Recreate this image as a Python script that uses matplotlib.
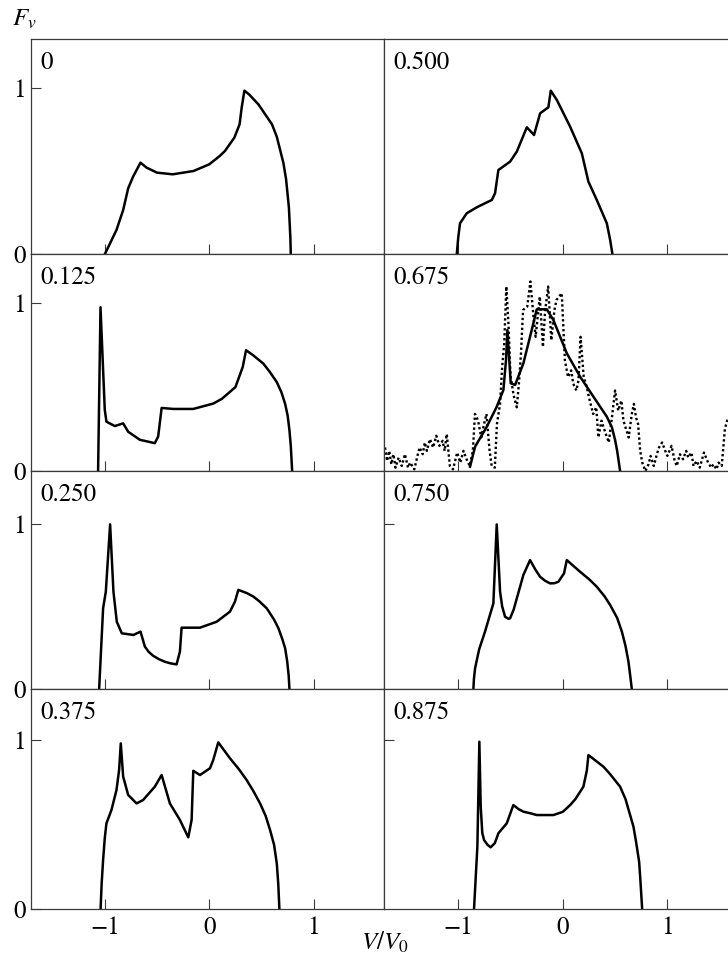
import numpy as np
import matplotlib.pyplot as plt

plt.rcParams['font.family'] = ['STIXGeneral', 'Liberation Serif', 'DejaVu Serif']
plt.rcParams['mathtext.fontset'] = 'stix'

# distributions F_v(V/V0), one per parameter value
v_000 = [-1.0, -0.888, -0.824, -0.776, -0.729, -0.658, -0.6, -0.5, -0.35, -0.15,
         0.0, 0.1, 0.15, 0.24, 0.29, 0.31, 0.336, 0.38, 0.47, 0.6, 0.646, 0.71,
         0.735, 0.762, 0.776, 0.78]
f_000 = [0.0, 0.146, 0.266, 0.396, 0.466, 0.55, 0.52, 0.49, 0.48, 0.50,
         0.54, 0.59, 0.62, 0.70, 0.78, 0.88, 0.982, 0.96, 0.90, 0.78, 0.706, 0.546,
         0.45, 0.28, 0.10, 0.0]

v_125 = [-1.064, -1.041, -1.0, -0.984, -0.904, -0.824, -0.776, -0.664, -0.521, -0.489,
         -0.456, -0.345, -0.153, 0.038, 0.12, 0.25, 0.32, 0.352, 0.42, 0.518, 0.58,
         0.646, 0.69, 0.726, 0.75, 0.767, 0.78, 0.793]
f_125 = [0.0, 0.976, 0.364, 0.294, 0.268, 0.284, 0.234, 0.186, 0.166, 0.206,
         0.376, 0.37, 0.37, 0.402, 0.43, 0.50, 0.62, 0.72, 0.69, 0.64, 0.59,
         0.53, 0.47, 0.40, 0.33, 0.244, 0.15, 0.0]

v_250 = [-1.054, -1.016, -0.99, -0.949, -0.917, -0.885, -0.837, -0.726, -0.658, -0.616,
         -0.58, -0.537, -0.48, -0.425, -0.37, -0.313, -0.281, -0.265, -0.089, 0.071,
         0.198, 0.246, 0.278, 0.36, 0.422, 0.48, 0.55, 0.62, 0.662, 0.70, 0.726,
         0.745, 0.76, 0.767]
f_250 = [0.0, 0.488, 0.589, 0.996, 0.589, 0.407, 0.337, 0.327, 0.347, 0.256,
         0.225, 0.201, 0.18, 0.165, 0.155, 0.149, 0.226, 0.371, 0.371, 0.407,
         0.468, 0.529, 0.60, 0.58, 0.559, 0.53, 0.488, 0.42, 0.367, 0.30, 0.246,
         0.17, 0.08, 0.0]

v_375 = [-1.04, -1.03, -1.016, -1.0, -0.984, -0.936, -0.888, -0.863, -0.847, -0.824,
         -0.776, -0.696, -0.633, -0.521, -0.456, -0.377, -0.281, -0.201, -0.169, -0.153,
         -0.089, 0.007, 0.038, 0.086, 0.198, 0.28, 0.358, 0.42, 0.486, 0.54, 0.582,
         0.62, 0.646, 0.66, 0.671]
f_375 = [0.0, 0.15, 0.29, 0.42, 0.507, 0.586, 0.704, 0.822, 0.98, 0.783,
         0.675, 0.625, 0.645, 0.724, 0.793, 0.625, 0.527, 0.424, 0.527, 0.818,
         0.793, 0.833, 0.882, 0.986, 0.892, 0.83, 0.763, 0.70, 0.625, 0.55, 0.467,
         0.38, 0.27, 0.15, 0.0]

v_500 = [-1.014, -1.0, -0.983, -0.919, -0.823, -0.679, -0.648, -0.616, -0.504, -0.44,
         -0.344, -0.275, -0.217, -0.138, -0.115, -0.057, 0.07, 0.182, 0.245, 0.325,
         0.421, 0.453, 0.475]
f_500 = [0.0, 0.10, 0.186, 0.246, 0.282, 0.326, 0.366, 0.506, 0.556, 0.616,
         0.762, 0.716, 0.846, 0.882, 0.982, 0.926, 0.766, 0.606, 0.436, 0.326,
         0.186, 0.086, 0.0]

v_675 = [-0.887, -0.839, -0.727, -0.632, -0.568, -0.543, -0.53, -0.498, -0.456, -0.377,
         -0.297, -0.249, -0.153, -0.09, 0.038, 0.166, 0.293, 0.421, 0.47, 0.5, 0.52, 0.548]
f_675 = [0.026, 0.145, 0.264, 0.383, 0.483, 0.662, 0.841, 0.523, 0.513, 0.642,
         0.841, 0.964, 0.964, 0.90, 0.702, 0.562, 0.443, 0.324, 0.26, 0.185, 0.12, 0.0]

# measured (noisy) distribution for 0.675, dotted
v_675m = [-1.70, -1.68, -1.66, -1.64, -1.62, -1.60, -1.57, -1.54, -1.51, -1.48, -1.46,
          -1.42, -1.39, -1.37, -1.34, -1.32, -1.30, -1.27, -1.24, -1.21, -1.18, -1.15,
          -1.13, -1.11, -1.08, -1.05, -1.03, -1.01, -0.98, -0.95, -0.92, -0.89, -0.86,
          -0.84, -0.81, -0.78, -0.76, -0.73, -0.70, -0.68, -0.65, -0.63, -0.60, -0.58,
          -0.56, -0.54, -0.52, -0.50, -0.47, -0.44, -0.42, -0.40, -0.38, -0.34, -0.31,
          -0.28, -0.26, -0.22, -0.19, -0.17, -0.14, -0.11, -0.08, -0.06, -0.01, 0.02,
          0.05, 0.08, 0.10, 0.13, 0.15, 0.17, 0.20, 0.23, 0.25, 0.29, 0.32, 0.34, 0.37,
          0.39, 0.44, 0.47, 0.50, 0.53, 0.56, 0.58, 0.61, 0.63, 0.66, 0.68, 0.70, 0.72,
          0.74, 0.76, 0.79, 0.82, 0.84, 0.87, 0.90, 0.92, 0.95, 0.98, 1.00, 1.02, 1.04,
          1.07, 1.09, 1.12, 1.15, 1.18, 1.20, 1.23, 1.25, 1.28, 1.31, 1.35, 1.37, 1.39,
          1.42, 1.44, 1.47, 1.49, 1.52, 1.55, 1.58]
f_675m = [0.14, 0.06, 0.12, 0.04, 0.10, 0.02, 0.08, 0.03, 0.10, 0.02, 0.05,
          0.01, 0.09, 0.14, 0.10, 0.17, 0.12, 0.19, 0.14, 0.21, 0.15, 0.18,
          0.12, 0.22, 0.03, 0.01, 0.06, 0.11, 0.05, 0.12, 0.07, 0.03, 0.12,
          0.34, 0.30, 0.20, 0.26, 0.34, 0.12, 0.03, 0.02, 0.28, 0.40, 0.62,
          0.76, 1.10, 0.88, 0.57, 0.45, 0.38, 0.52, 0.70, 0.96, 0.98, 1.13,
          0.92, 0.80, 1.04, 0.74, 0.95, 1.10, 0.78, 0.96, 1.02, 1.06, 0.66,
          0.56, 0.60, 0.52, 0.48, 0.54, 0.80, 0.56, 0.50, 0.44, 0.34, 0.38, 0.20, 0.30,
          0.26, 0.17, 0.32, 0.48, 0.36, 0.42, 0.30, 0.24, 0.20, 0.34, 0.40, 0.32, 0.28,
          0.12, 0.05, 0.0, 0.04, 0.09, 0.03, 0.10, 0.14, 0.17, 0.12, 0.09, 0.12, 0.15,
          0.06, 0.03, 0.10, 0.07, 0.12, 0.08, 0.11, 0.03, 0.06, 0.02, 0.11, 0.08, 0.05,
          0.02, 0.04, 0.01, 0.05, 0.03, 0.25, 0.32]

v_750 = [-0.855, -0.85, -0.839, -0.80, -0.744, -0.664, -0.632, -0.60, -0.58, -0.552,
         -0.52, -0.504, -0.47, -0.44, -0.377, -0.313, -0.26, -0.217, -0.17, -0.122,
         -0.08, -0.042, 0.012, 0.038, 0.166, 0.25, 0.325, 0.40, 0.453, 0.52, 0.565,
         0.60, 0.628, 0.645, 0.66]
f_750 = [0.0, 0.06, 0.125, 0.24, 0.347, 0.518, 0.996, 0.589, 0.50, 0.437,
         0.425, 0.428, 0.48, 0.548, 0.69, 0.78, 0.72, 0.679, 0.655, 0.639,
         0.64, 0.649, 0.70, 0.78, 0.709, 0.665, 0.619, 0.56, 0.508, 0.43, 0.347,
         0.26, 0.165, 0.08, 0.0]

v_875 = [-0.849, -0.817, -0.798, -0.785, -0.77, -0.753, -0.72, -0.69, -0.65, -0.616,
         -0.536, -0.473, -0.42, -0.377, -0.3, -0.249, -0.15, -0.09, 0.0, 0.07,
         0.12, 0.197, 0.23, 0.245, 0.31, 0.389, 0.45, 0.548, 0.60, 0.676, 0.70,
         0.73, 0.74, 0.759]
f_875 = [0.0, 0.369, 0.99, 0.605, 0.45, 0.408, 0.38, 0.365, 0.39, 0.448,
         0.507, 0.615, 0.59, 0.576, 0.565, 0.556, 0.556, 0.556, 0.575, 0.615,
         0.65, 0.724, 0.82, 0.911, 0.88, 0.842, 0.80, 0.724, 0.65, 0.487, 0.40,
         0.28, 0.191, 0.0]

left_labels = ['0', '0.125', '0.250', '0.375']
right_labels = ['0.500', '0.675', '0.750', '0.875']
left_data = [(v_000, f_000), (v_125, f_125), (v_250, f_250), (v_375, f_375)]
right_data = [(v_500, f_500), (v_675, f_675), (v_750, f_750), (v_875, f_875)]

W, H = 728, 960
fig = plt.figure(figsize=(W / 100, H / 100), dpi=100)

cols = [(31, 384), (384, 728)]
rows = [(39, 254.3), (254.3, 471), (471, 689), (689, 909)]
row_ymax = [1.292, 1.292, 1.319, 1.302]
xlims = [(-1.706, 1.672), (-1.71, 1.58)]
spine_c = '#3a3a3a'

for c, (x0, x1) in enumerate(cols):
    labels = left_labels if c == 0 else right_labels
    data = left_data if c == 0 else right_data
    for r, (y0, y1) in enumerate(rows):
        ax = fig.add_axes([x0 / W, 1 - y1 / H, (x1 - x0) / W, (y1 - y0) / H])
        ax.set_xlim(*xlims[c])
        ax.set_ylim(0, row_ymax[r])
        for s in ax.spines.values():
            s.set_color(spine_c)
            s.set_linewidth(0.9)
        if c == 1:
            ax.spines['right'].set_visible(False)

        vx, fy = data[r]
        if c == 1 and r == 1:
            ax.plot(v_675m, f_675m, color='black', lw=1.7, ls=(0, (1, 1.1)))
        ax.plot(vx, fy, color='black', lw=1.8, solid_joinstyle='round')

        ax.annotate(labels[r], xy=(0, 1), xycoords='axes fraction',
                    xytext=(7, -17), textcoords='offset points',
                    ha='left', va='center', fontsize=18)

        ax.set_xticks([-1, 0, 1])
        if c == 0:
            ax.set_yticks([0, 1])
        elif r >= 2:
            ax.set_yticks([1])
        else:
            ax.set_yticks([])
        ax.tick_params(direction='in', length=7, width=0.8, color=spine_c,
                       labelsize=18, pad=4)
        ax.tick_params(axis='x', pad=5, labelbottom=(r == 3))
        ax.tick_params(axis='y', labelleft=(c == 0))

fig.text(12 / W, 1 - 26 / H, r'$F_v$', fontsize=18, ha='left', va='baseline')
fig.text(385 / W, 1 - 950 / H, r'$V/V_0$', fontsize=18, ha='center', va='baseline')

fig.savefig('out.png', dpi=100)
